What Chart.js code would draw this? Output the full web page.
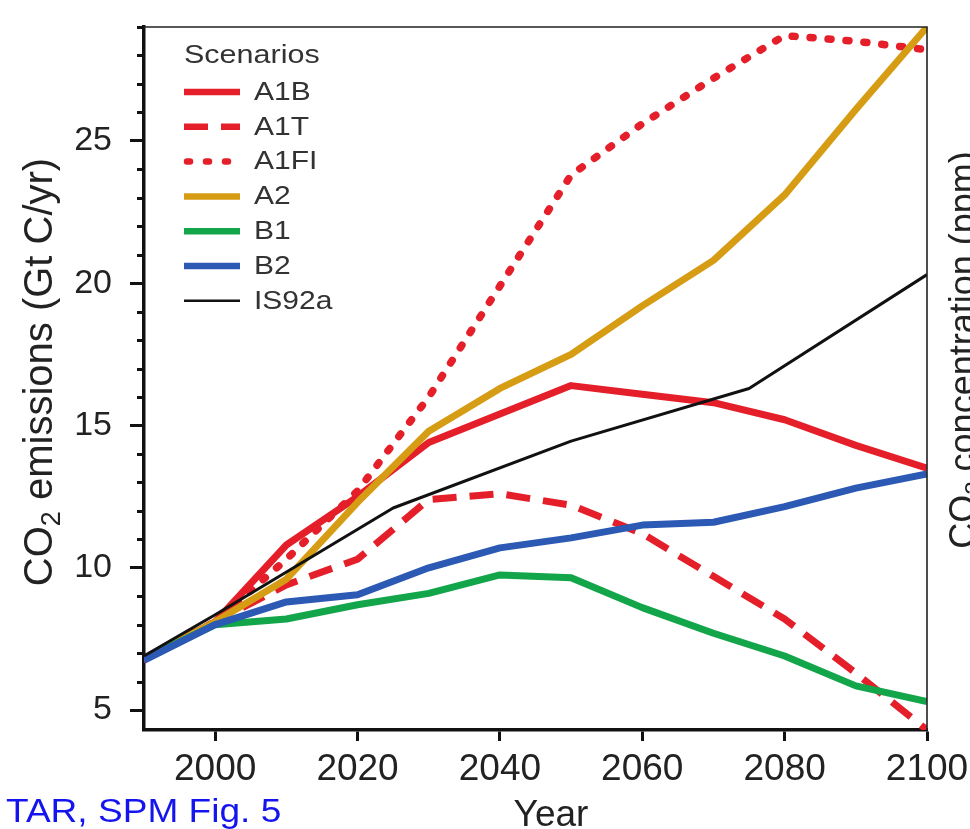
<!DOCTYPE html>
<html>
<head>
<meta charset="utf-8">
<script src="https://cdn.jsdelivr.net/npm/chart.js@4.4.1/dist/chart.umd.min.js"></script>
<style>
    html, body { margin: 0; padding: 0; background: #fff; }
    #wrap { width: 970px; height: 829px; position: relative; }
</style>
</head>
<body>
<div id="wrap"><canvas id="co2Chart" width="970" height="829"></canvas></div>
<script>
// values (Gt C/yr)
const years = [1990, 2000, 2010, 2020, 2030, 2040, 2050, 2060, 2070, 2080, 2090, 2100];
const a1b  = [6.8, 8.1, 10.8, 12.5, 14.4, 15.4, 16.4, 16.1, 15.8, 15.2, 14.3, 13.5];
const a1t  = [6.8, 8.1, 9.4, 10.3, 12.4, 12.6, 12.2, 11.2, 9.7, 8.2, 6.3, 4.3];
const a1fi = [6.8, 8.1, 10.3, 12.7, 16.0, 19.9, 23.8, 25.6, 27.2, 28.7, 28.5, 28.2];
const a2   = [6.8, 8.1, 9.6, 12.3, 14.8, 16.3, 17.5, 19.2, 20.8, 23.1, 26.1, 29.0];
const b1   = [6.8, 8.0, 8.2, 8.7, 9.1, 9.75, 9.65, 8.6, 7.7, 6.9, 5.85, 5.3];
const b2   = [6.75, 8.0, 8.8, 9.05, 10.0, 10.7, 11.05, 11.5, 11.6, 12.15, 12.8, 13.3];
const is92aYears = [1990, 2000, 2025, 2050, 2075, 2100];
const is92a = [6.9, 8.35, 12.1, 14.45, 16.3, 20.3];

const xTickValues = [2000, 2020, 2040, 2060, 2080, 2100];
const yTickValues = [5, 6, 7, 8, 9, 10, 11, 12, 13, 14, 15, 16, 17, 18, 19, 20, 21, 22, 23, 24, 25, 26, 27, 28, 29];

const FONT = "'Liberation Sans', Arial, Helvetica, sans-serif";
const RED = '#e41f2a';

const toPoints = (xs, ys) => xs.map((x, i) => ({ x: x, y: ys[i] }));

const datasets = [
    { label: 'A1B', data: toPoints(years, a1b), borderColor: RED, borderWidth: 7, order: 6 },
    { label: 'A1T', data: toPoints(years, a1t), borderColor: RED, borderWidth: 7, borderDash: [24, 13], order: 5 },
    { label: 'A1FI', data: toPoints(years, a1fi), borderColor: RED, borderWidth: 7.5, borderDash: [3, 15], borderCapStyle: 'round', order: 4 },
    { label: 'A2', data: toPoints(years, a2), borderColor: '#d69d14', borderWidth: 7, order: 3 },
    { label: 'B1', data: toPoints(years, b1), borderColor: '#13a54a', borderWidth: 7, order: 2 },
    { label: 'B2', data: toPoints(years, b2), borderColor: '#2b59b3', borderWidth: 7, order: 1 },
    { label: 'IS92a', data: toPoints(is92aYears, is92a), borderColor: '#111111', borderWidth: 3, order: 0 }
];

// text drawn a little wider than the font, as in the scanned figure
function wideText(ctx, text, x, y, stretch) {
    ctx.save();
    ctx.translate(x, y);
    ctx.scale(stretch, 1);
    ctx.fillText(text, 0, 0);
    ctx.restore();
}

// extra drawing: frame, minor ticks, axis titles, legend, caption
const decorations = {
    id: 'decorations',
    afterDraw(chart) {
        const ctx = chart.ctx;
        const area = chart.chartArea;
        const yScale = chart.scales.y;
        ctx.save();

        // thin top / right frame
        ctx.strokeStyle = '#222';
        ctx.lineWidth = 1.6;
        ctx.beginPath();
        ctx.moveTo(area.left, area.top);
        ctx.lineTo(area.right, area.top);
        ctx.lineTo(area.right, area.bottom);
        ctx.stroke();

        // minor y ticks
        ctx.strokeStyle = '#111';
        ctx.lineWidth = 3;
        yTickValues.filter(v => v % 5 !== 0).forEach(v => {
            const py = Math.round(yScale.getPixelForValue(v)) + 0.5;
            ctx.beginPath();
            ctx.moveTo(area.left - 7, py);
            ctx.lineTo(area.left, py);
            ctx.stroke();
        });

        // rotated titles with subscript 2
        const rotatedTitle = (x, yMid, size, rest) => {
            ctx.save();
            ctx.translate(x, yMid);
            ctx.rotate(-Math.PI / 2);
            ctx.fillStyle = '#222';
            ctx.textBaseline = 'alphabetic';
            ctx.textAlign = 'left';
            const big = size + 'px ' + FONT;
            const small = Math.round(size * 0.68) + 'px ' + FONT;
            ctx.font = big;
            const wCO = ctx.measureText('CO').width;
            const wRest = ctx.measureText(rest).width;
            ctx.font = small;
            const w2 = ctx.measureText('2').width;
            let cx = -(wCO + w2 + wRest) / 2;
            ctx.font = big;
            ctx.fillText('CO', cx, 0);
            cx += wCO;
            ctx.font = small;
            ctx.fillText('2', cx, size * 0.2);
            cx += w2;
            ctx.font = big;
            ctx.fillText(rest, cx, 0);
            ctx.restore();
        };
        rotatedTitle(52, 372, 40, ' emissions (Gt C/yr)');
        rotatedTitle(975, 350, 36, ' concentration (ppm)');

        // x title and caption
        ctx.fillStyle = '#222';
        ctx.textBaseline = 'alphabetic';
        ctx.textAlign = 'center';
        ctx.font = '37px ' + FONT;
        ctx.fillText('Year', 551, 826);
        ctx.textAlign = 'left';
        ctx.fillStyle = '#1414ee';
        ctx.font = '34px ' + FONT;
        wideText(ctx, 'TAR, SPM Fig. 5', 6, 822, 1.09);

        // legend
        ctx.fillStyle = '#333';
        ctx.font = '25px ' + FONT;
        ctx.textBaseline = 'middle';
        wideText(ctx, 'Scenarios', 184, 56, 1.22);
        chart.data.datasets.forEach((ds, i) => {
            const ly = 92 + i * 34.8;
            ctx.save();
            ctx.strokeStyle = ds.borderColor;
            ctx.lineWidth = ds.label === 'IS92a' ? 2.5 : 6.5;
            ctx.setLineDash(ds.label === 'A1FI' ? [3, 16] : (ds.borderDash || []));
            ctx.lineCap = ds.borderCapStyle || 'butt';
            ctx.beginPath();
            ctx.moveTo(ds.label === 'A1FI' ? 187 : 184, ly);
            ctx.lineTo(240, ly);
            ctx.stroke();
            ctx.restore();
            ctx.fillStyle = '#333';
            wideText(ctx, ds.label, 254, ly + 1, 1.2);
        });

        ctx.restore();
    }
};

new Chart(document.getElementById('co2Chart'), {
    type: 'line',
    data: { datasets: datasets },
    options: {
        responsive: false,
        animation: false,
        devicePixelRatio: 1,
        layout: { padding: { top: 27, right: 43, left: 0, bottom: 0 } },
        elements: {
            point: { radius: 0 },
            line: { tension: 0, borderJoinStyle: 'round' }
        },
        plugins: {
            legend: { display: false },
            tooltip: { enabled: false }
        },
        scales: {
            x: {
                type: 'linear',
                min: 1990,
                max: 2100,
                afterBuildTicks: scale => { scale.ticks = xTickValues.map(v => ({ value: v })); },
                afterFit: scale => {
                    scale.height = 99;
                    scale.paddingLeft = 0;
                    scale.paddingRight = 0;
                },
                grid: { drawOnChartArea: false, tickLength: 11, tickWidth: 3, tickColor: '#111' },
                border: { display: true, width: 3.5, color: '#111' },
                ticks: {
                    autoSkip: false,
                    maxRotation: 0,
                    padding: 7,
                    color: '#222',
                    font: { size: 37, family: FONT },
                    callback: v => String(v)
                }
            },
            y: {
                min: 4.3,
                max: 29,
                afterBuildTicks: scale => { scale.ticks = yTickValues.map(v => ({ value: v })); },
                afterFit: scale => {
                    scale.width = 144;
                    scale.paddingTop = 0;
                    scale.paddingBottom = 0;
                },
                grid: {
                    drawOnChartArea: false,
                    tickLength: 14,
                    tickWidth: 3,
                    tickColor: ctx => (ctx.tick && ctx.tick.value % 5 === 0 ? '#111' : 'rgba(0,0,0,0)')
                },
                border: { display: true, width: 3.5, color: '#111' },
                ticks: {
                    autoSkip: false,
                    padding: 18,
                    color: '#222',
                    font: { size: 34, family: FONT },
                    callback: v => (v % 5 === 0 ? String(v) : '')
                }
            }
        }
    },
    plugins: [decorations]
});
</script>
</body>
</html>
